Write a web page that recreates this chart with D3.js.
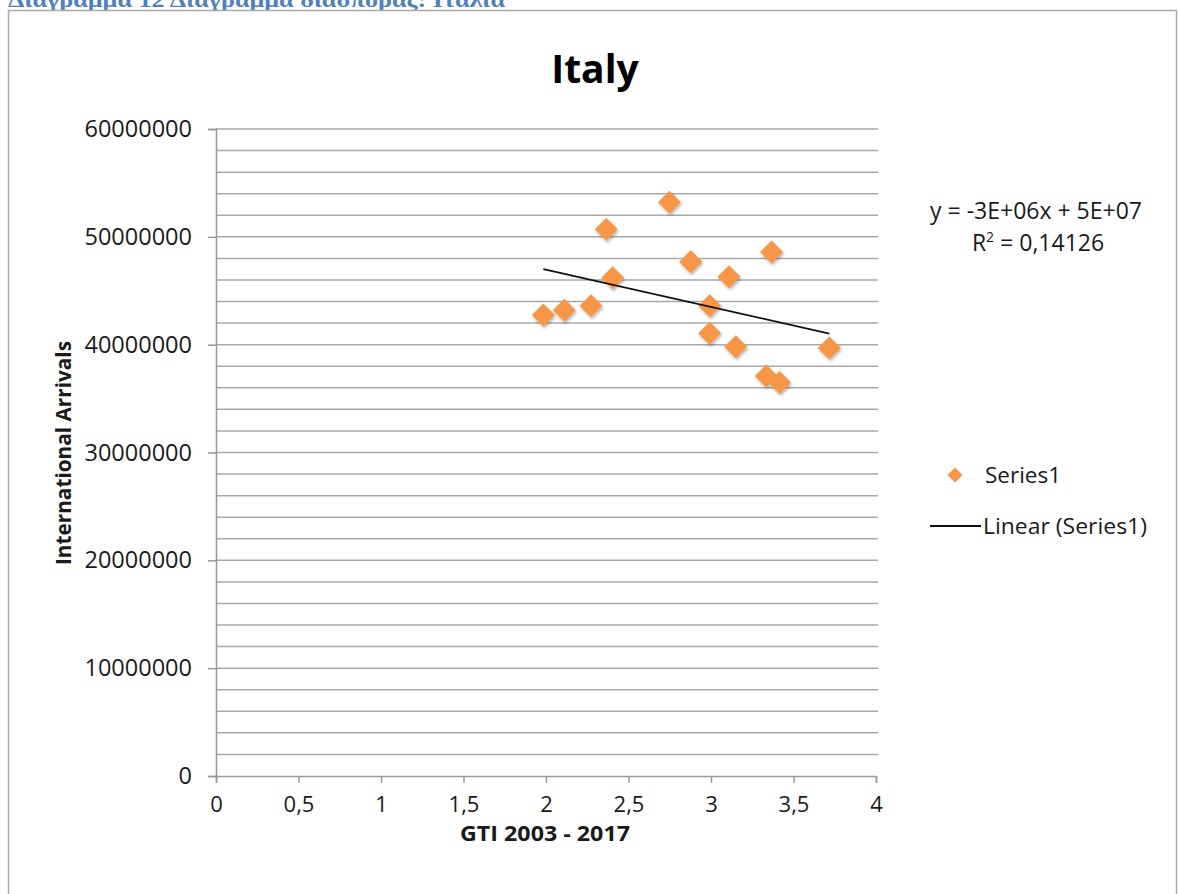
<!DOCTYPE html>
<html>
<head>
<meta charset="utf-8">
<script src="https://cdn.jsdelivr.net/npm/d3@7"></script>
<style>
  html, body { margin: 0; padding: 0; background: #ffffff; }
  svg { display: block; }
</style>
</head>
<body>
<svg id="chart" width="1178" height="894"></svg>
<script>
// ---- Data ----
const gtiValues = [1.984, 2.111, 2.273, 2.365, 2.404, 2.748, 2.877, 2.992, 2.992, 3.109, 3.150, 3.367, 3.335, 3.416, 3.717];
const arrivals  = [42.75e6, 43.2e6, 43.6e6, 50.7e6, 46.2e6, 53.2e6, 47.7e6, 43.6e6, 41.05e6, 46.3e6, 39.8e6, 48.6e6, 37.1e6, 36.5e6, 39.7e6];
const xTicks = [0, 0.5, 1, 1.5, 2, 2.5, 3, 3.5, 4];
const xTickLabels = ["0", "0,5", "1", "1,5", "2", "2,5", "3", "3,5", "4"];
const yMajorTicks = [0, 10e6, 20e6, 30e6, 40e6, 50e6, 60e6];
const yTickLabels = ["0", "10000000", "20000000", "30000000", "40000000", "50000000", "60000000"];
const yMinorStep = 2e6;
const seriesName = "Series1";
const trendName = "Linear (Series1)";
const equationText = "y = -3E+06x + 5E+07";
const r2Value = "0,14126";
const chartTitle = "Italy";
const xTitle = "GTI 2003 - 2017";
const yTitle = "International Arrivals";
const captionText = "Διάγραμμα 12 Διάγραμμα διασποράς: Ιταλία";

const svg = d3.select("#chart");
const font = "'Open Sans', 'Liberation Sans', sans-serif";
const orange = "#F79646";
const textColor = "#1a1a1a";

const x = d3.scaleLinear().domain([0, 4]).range([216, 876]);
const y = d3.scaleLinear().domain([0, 60e6]).range([776, 129]);

// Shadow filter
const defs = svg.append("defs");
const f = defs.append("filter").attr("id", "shadow").attr("x", "-50%").attr("y", "-50%").attr("width", "200%").attr("height", "200%");
f.append("feGaussianBlur").attr("in", "SourceAlpha").attr("stdDeviation", 1.5).attr("result", "b");
f.append("feOffset").attr("in", "b").attr("dx", 1).attr("dy", 2).attr("result", "o");
f.append("feComponentTransfer").attr("in", "o").attr("result", "oa")
  .append("feFuncA").attr("type", "linear").attr("slope", 0.3);
const m = f.append("feMerge");
m.append("feMergeNode").attr("in", "oa");
m.append("feMergeNode").attr("in", "SourceGraphic");

// Caption (cut off at top in the reference)
svg.append("text")
  .attr("x", 8).attr("y", 7)
  .attr("font-family", "'Liberation Serif', 'DejaVu Serif', serif")
  .attr("font-weight", "bold")
  .attr("font-size", 20)
  .attr("fill", "#4F81BD")
  .attr("textLength", 497)
  .attr("lengthAdjust", "spacingAndGlyphs")
  .text(captionText);

// Frame
svg.append("rect")
  .attr("x", 8.5).attr("y", 10.5).attr("width", 1168).attr("height", 900)
  .attr("fill", "#ffffff").attr("stroke", "#a9a9a9").attr("stroke-width", 1.5);

// Title
svg.append("text")
  .attr("x", 595).attr("y", 83)
  .attr("text-anchor", "middle")
  .attr("font-family", font).attr("font-weight", "bold").attr("font-size", 39)
  .attr("fill", "#000").text(chartTitle);

// Gridlines (major + minor every 2M)
const gridVals = d3.range(yMinorStep, 60e6 + 1, yMinorStep);
svg.append("g").selectAll("line").data(gridVals).join("line")
  .attr("x1", x(0)).attr("x2", x(4) + 2)
  .attr("y1", d => y(d)).attr("y2", d => y(d))
  .attr("stroke", "#a8a8a8").attr("stroke-width", 1.5);

// Y axis
const yAxis = d3.axisLeft(y).tickValues(yMajorTicks)
  .tickFormat((d, i) => yTickLabels[i]).tickSize(8).tickPadding(16);
const gy = svg.append("g").attr("transform", `translate(${x(0)},0)`).call(yAxis);
gy.select(".domain").attr("stroke", "#999").attr("stroke-width", 1.5);
gy.selectAll(".tick line").attr("stroke", "#999").attr("stroke-width", 1.5);
gy.selectAll(".tick text").attr("font-family", font).attr("font-size", 23.5).attr("fill", textColor);

// X axis
const xAxis = d3.axisBottom(x).tickValues(xTicks)
  .tickFormat((d, i) => xTickLabels[i]).tickSize(7).tickPadding(13);
const gx = svg.append("g").attr("transform", `translate(0,${y(0)})`).call(xAxis);
gx.select(".domain").attr("stroke", "#999").attr("stroke-width", 1.5);
gx.selectAll(".tick line").attr("stroke", "#999").attr("stroke-width", 1.5);
gx.selectAll(".tick text").attr("font-family", font).attr("font-size", 22).attr("fill", textColor);

// Axis titles
svg.append("text")
  .attr("x", 545).attr("y", 841)
  .attr("text-anchor", "middle")
  .attr("font-family", font).attr("font-weight", "bold").attr("font-size", 21)
  .attr("textLength", 170).attr("lengthAdjust", "spacingAndGlyphs")
  .attr("fill", textColor).text(xTitle);
svg.append("text")
  .attr("transform", "translate(71,453) rotate(-90)")
  .attr("text-anchor", "middle")
  .attr("font-family", font).attr("font-weight", "bold").attr("font-size", 21)
  .attr("textLength", 224).attr("lengthAdjust", "spacingAndGlyphs")
  .attr("fill", textColor).text(yTitle);

// Points
const pts = gtiValues.map((v, i) => ({ x: v, y: arrivals[i] }));
function diamondPath(r) {
  return `M0,${-r}L${r},0L0,${r}L${-r},0Z`;
}
svg.append("g").attr("filter", "url(#shadow)").selectAll("path").data(pts).join("path")
  .attr("d", diamondPath(11.5))
  .attr("transform", d => `translate(${x(d.x)},${y(d.y)})`)
  .attr("fill", orange);

// Linear trend (least squares from the data)
const mx = d3.mean(gtiValues), my = d3.mean(arrivals);
let sxy = 0, sxx = 0;
gtiValues.forEach((v, i) => { sxy += (v - mx) * (arrivals[i] - my); sxx += (v - mx) * (v - mx); });
const slope = sxy / sxx, intercept = my - slope * mx;
const [xmin, xmax] = d3.extent(gtiValues);
svg.append("line")
  .attr("x1", x(xmin)).attr("y1", y(slope * xmin + intercept))
  .attr("x2", x(xmax)).attr("y2", y(slope * xmax + intercept))
  .attr("stroke", "#111").attr("stroke-width", 1.8);

// Equation
svg.append("text")
  .attr("x", 1036).attr("y", 219)
  .attr("text-anchor", "middle")
  .attr("font-family", font).attr("font-size", 23).attr("fill", textColor)
  .text(equationText);
const r2 = svg.append("text")
  .attr("x", 1038).attr("y", 251)
  .attr("text-anchor", "middle")
  .attr("font-family", font).attr("font-size", 23).attr("fill", textColor);
r2.append("tspan").text("R");
r2.append("tspan").attr("font-size", 14).attr("dy", -9).text("2");
r2.append("tspan").attr("dy", 9).text(" = " + r2Value);

// Legend
svg.append("path")
  .attr("d", diamondPath(7.5))
  .attr("transform", `translate(955,475)`)
  .attr("fill", orange);
svg.append("text")
  .attr("x", 985).attr("y", 483)
  .attr("font-family", font).attr("font-size", 22.5).attr("fill", textColor)
  .text(seriesName);
svg.append("line")
  .attr("x1", 930).attr("x2", 981).attr("y1", 526).attr("y2", 526)
  .attr("stroke", "#111").attr("stroke-width", 1.8);
svg.append("text")
  .attr("x", 983).attr("y", 534)
  .attr("font-family", font).attr("font-size", 22.5).attr("fill", textColor)
  .attr("textLength", 164).attr("lengthAdjust", "spacingAndGlyphs")
  .text(trendName);
</script>
</body>
</html>
